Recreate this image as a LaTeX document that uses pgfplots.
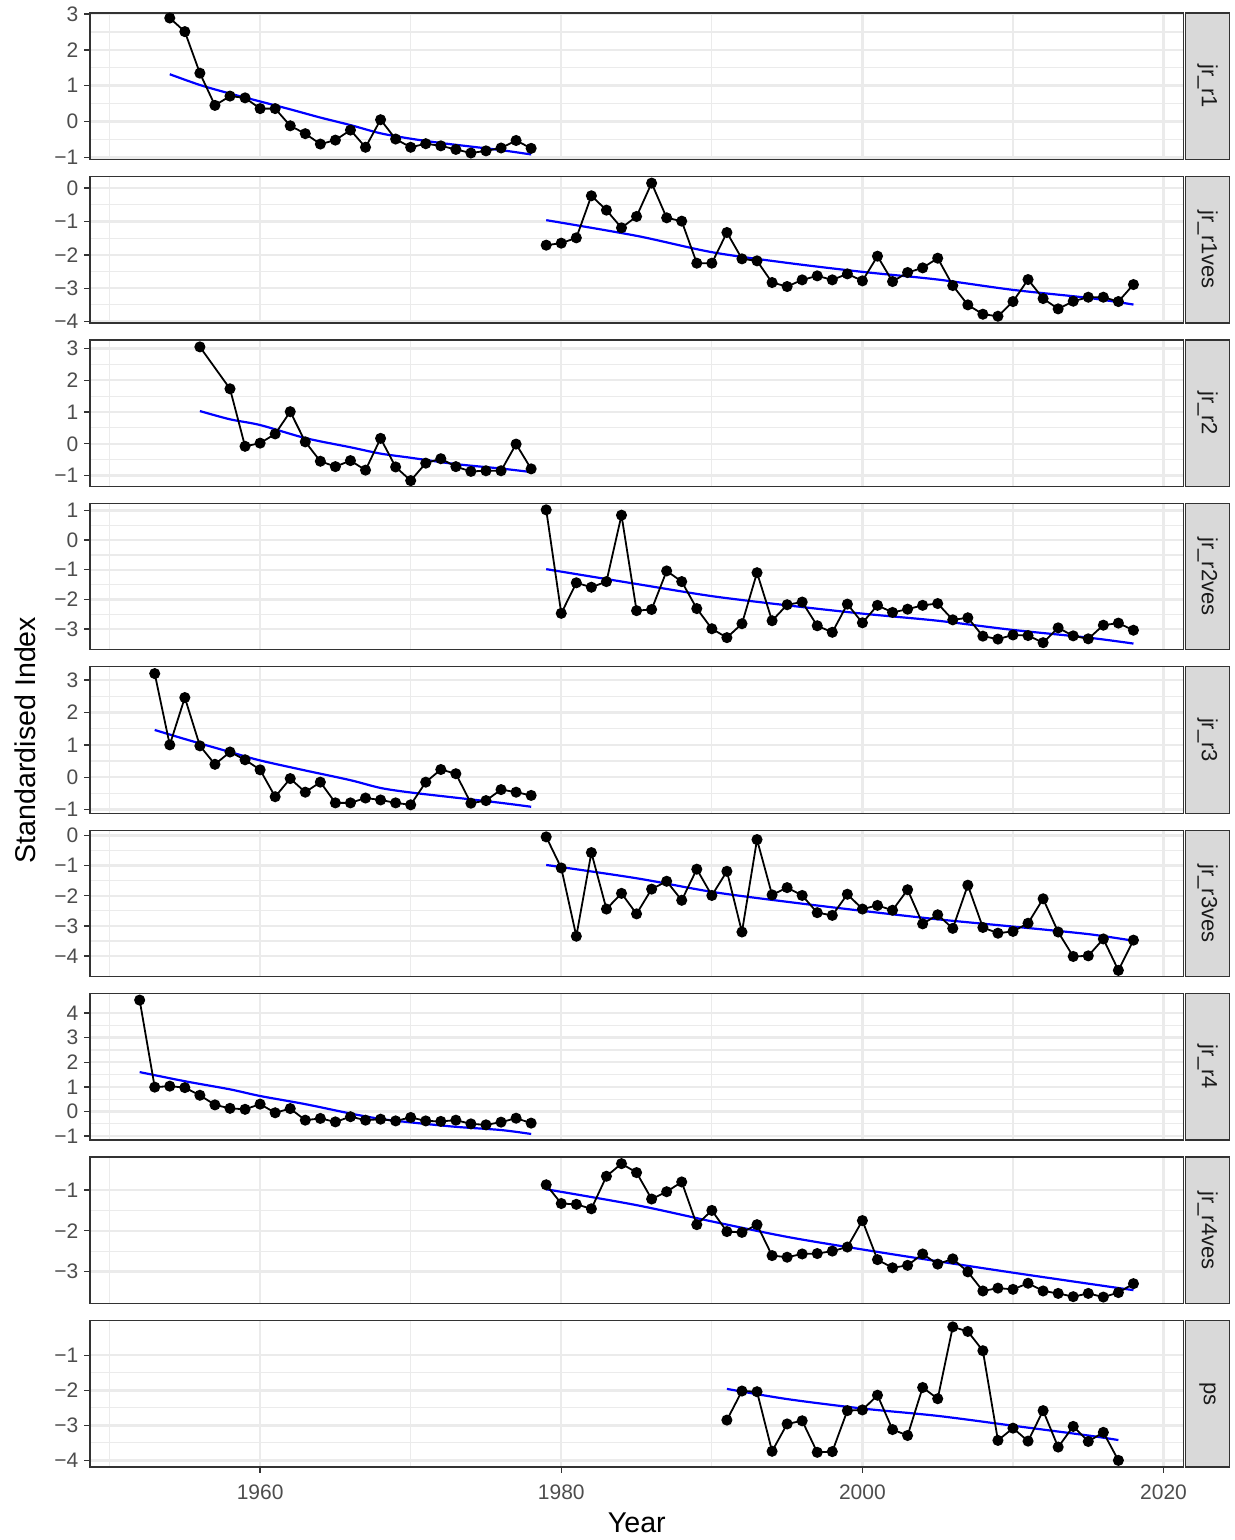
\documentclass[border=0pt]{standalone}
\usepackage{fontspec}
\setmainfont{Liberation Sans}
\usepackage{pgfplots}
\pgfplotsset{compat=1.18}
\usepgfplotslibrary{groupplots}
\usetikzlibrary{calc}
\definecolor{g20}{HTML}{333333}
\definecolor{g30}{HTML}{4D4D4D}
\definecolor{g10}{HTML}{1A1A1A}
\definecolor{g85}{HTML}{D9D9D9}
\definecolor{g92}{HTML}{EBEBEB}
\pgfplotsset{
  dat/.style={black, line width=0.9pt, mark=*, mark size=2.3pt, mark options={solid, fill=black}},
  fit/.style={blue, line width=1.1pt, no marks},
}
\begin{document}
\begin{tikzpicture}
\begin{groupplot}[
  group style={group size=1 by 9, vertical sep=8.5pt, xticklabels at=edge bottom},
  scale only axis, width=547pt, height=73.25pt,
  xmin=1948.7, xmax=2021.33,
  xtick={1960,1980,2000,2020}, xticklabels={1960,1980,2000,2020},
  minor xtick={1950,1970,1990,2010},
  minor y tick num=1,
  grid=both,
  major grid style={color=g92, line width=1.2pt},
  minor grid style={color=g92, line width=0.6pt},
  axis line style={g20, line width=0.7pt},
  tick style={g20, line width=0.7pt},
  tick align=outside, major tick length=2.8pt, minor tick length=0pt,
  xtick pos=bottom, ytick pos=left,
  ticklabel style={font=\fontsize{10.5}{12}\selectfont, text=g30},
  xticklabel style={yshift=-2.5pt},
  yticklabel style={xshift=0.5pt},
  every major x tick/.append style={draw=none},
  every axis x label/.style={at={(rel axis cs:0.5,0)}, yshift=-28pt, anchor=center, font=\fontsize{14.3}{16}\selectfont},
]
% jr_r1
\nextgroupplot[ymin=-1.06, ymax=3.03, ytick={-1,0,1,2,3}, yticklabels={−1,0,1,2,3}]
\addplot[fit, smooth] coordinates {(1954,1.32) (1956,1.02) (1958,0.78) (1960,0.56) (1962,0.34) (1964,0.11) (1966,-0.10) (1968,-0.33) (1970,-0.48) (1972,-0.60) (1974,-0.70) (1976,-0.80) (1978,-0.92)};
\addplot[dat] coordinates {(1954,2.89) (1955,2.51) (1956,1.35) (1957,0.45) (1958,0.71) (1959,0.66) (1960,0.36) (1961,0.36) (1962,-0.12) (1963,-0.34) (1964,-0.63) (1965,-0.52) (1966,-0.24) (1967,-0.72) (1968,0.05) (1969,-0.49) (1970,-0.72) (1971,-0.62) (1972,-0.68) (1973,-0.78) (1974,-0.88) (1975,-0.82) (1976,-0.74) (1977,-0.53) (1978,-0.75)};
% jr_r1ves
\nextgroupplot[ymin=-4.04, ymax=0.35, ytick={-4,-3,-2,-1,0}, yticklabels={−4,−3,−2,−1,0}]
\addplot[fit, smooth] coordinates {(1979,-0.96) (1985,-1.43) (1990,-1.92) (1995,-2.24) (2000,-2.51) (2005,-2.74) (2010,-3.05) (2015,-3.29) (2018,-3.49)};
\addplot[dat] coordinates {(1979,-1.71) (1980,-1.65) (1981,-1.49) (1982,-0.23) (1983,-0.66) (1984,-1.19) (1985,-0.85) (1986,0.15) (1987,-0.89) (1988,-0.99) (1989,-2.25) (1990,-2.25) (1991,-1.33) (1992,-2.12) (1993,-2.18) (1994,-2.83) (1995,-2.95) (1996,-2.75) (1997,-2.63) (1998,-2.75) (1999,-2.57) (2000,-2.78) (2001,-2.04) (2002,-2.80) (2003,-2.53) (2004,-2.39) (2005,-2.10) (2006,-2.92) (2007,-3.50) (2008,-3.78) (2009,-3.84) (2010,-3.40) (2011,-2.74) (2012,-3.31) (2013,-3.62) (2014,-3.39) (2015,-3.27) (2016,-3.27) (2017,-3.40) (2018,-2.89)};
% jr_r2
\nextgroupplot[ymin=-1.34, ymax=3.27, ytick={-1,0,1,2,3}, yticklabels={−1,0,1,2,3}]
\addplot[fit, smooth] coordinates {(1956,1.03) (1958,0.77) (1960,0.59) (1963,0.18) (1966,-0.11) (1968,-0.31) (1970,-0.44) (1973,-0.64) (1976,-0.78) (1978,-0.89)};
\addplot[dat] coordinates {(1956,3.05) (1958,1.73) (1959,-0.08) (1960,0.02) (1961,0.31) (1962,1.01) (1963,0.06) (1964,-0.55) (1965,-0.72) (1966,-0.53) (1967,-0.83) (1968,0.17) (1969,-0.73) (1970,-1.16) (1971,-0.61) (1972,-0.47) (1973,-0.72) (1974,-0.87) (1975,-0.85) (1976,-0.85) (1977,-0.01) (1978,-0.79)};
% jr_r2ves
\nextgroupplot[ymin=-3.70, ymax=1.24, ytick={-3,-2,-1,0,1}, yticklabels={−3,−2,−1,0,1}]
\addplot[fit, smooth] coordinates {(1979,-0.98) (1985,-1.48) (1990,-1.89) (1995,-2.20) (2000,-2.48) (2005,-2.72) (2010,-3.03) (2015,-3.29) (2018,-3.49)};
\addplot[dat] coordinates {(1979,1.02) (1980,-2.47) (1981,-1.44) (1982,-1.59) (1983,-1.40) (1984,0.84) (1985,-2.38) (1986,-2.34) (1987,-1.04) (1988,-1.40) (1989,-2.31) (1990,-2.99) (1991,-3.29) (1992,-2.82) (1993,-1.10) (1994,-2.72) (1995,-2.18) (1996,-2.09) (1997,-2.89) (1998,-3.11) (1999,-2.16) (2000,-2.79) (2001,-2.20) (2002,-2.44) (2003,-2.33) (2004,-2.20) (2005,-2.14) (2006,-2.69) (2007,-2.62) (2008,-3.24) (2009,-3.34) (2010,-3.20) (2011,-3.22) (2012,-3.46) (2013,-2.96) (2014,-3.23) (2015,-3.33) (2016,-2.87) (2017,-2.80) (2018,-3.04)};
% jr_r3
\nextgroupplot[ymin=-1.11, ymax=3.41, ytick={-1,0,1,2,3}, yticklabels={−1,0,1,2,3}]
\addplot[fit, smooth] coordinates {(1953,1.46) (1955,1.18) (1958,0.78) (1960,0.52) (1963,0.21) (1966,-0.09) (1968,-0.33) (1970,-0.47) (1973,-0.63) (1976,-0.79) (1978,-0.91)};
\addplot[dat] coordinates {(1953,3.20) (1954,1.00) (1955,2.46) (1956,0.97) (1957,0.40) (1958,0.78) (1959,0.54) (1960,0.23) (1961,-0.60) (1962,-0.04) (1963,-0.46) (1964,-0.15) (1965,-0.79) (1966,-0.79) (1967,-0.64) (1968,-0.70) (1969,-0.79) (1970,-0.85) (1971,-0.15) (1972,0.24) (1973,0.11) (1974,-0.80) (1975,-0.72) (1976,-0.38) (1977,-0.46) (1978,-0.56)};
% jr_r3ves
\nextgroupplot[ymin=-4.68, ymax=0.17, ytick={-4,-3,-2,-1,0}, yticklabels={−4,−3,−2,−1,0}]
\addplot[fit, smooth] coordinates {(1979,-0.98) (1985,-1.42) (1990,-1.87) (1995,-2.20) (2000,-2.50) (2005,-2.78) (2010,-3.02) (2015,-3.27) (2018,-3.49)};
\addplot[dat] coordinates {(1979,-0.05) (1980,-1.08) (1981,-3.34) (1982,-0.57) (1983,-2.44) (1984,-1.92) (1985,-2.60) (1986,-1.78) (1987,-1.52) (1988,-2.15) (1989,-1.12) (1990,-1.99) (1991,-1.19) (1992,-3.20) (1993,-0.14) (1994,-1.97) (1995,-1.73) (1996,-1.99) (1997,-2.56) (1998,-2.65) (1999,-1.95) (2000,-2.44) (2001,-2.32) (2002,-2.48) (2003,-1.80) (2004,-2.93) (2005,-2.63) (2006,-3.08) (2007,-1.65) (2008,-3.05) (2009,-3.24) (2010,-3.18) (2011,-2.91) (2012,-2.10) (2013,-3.20) (2014,-4.01) (2015,-3.99) (2016,-3.43) (2017,-4.47) (2018,-3.47)};
% jr_r4
\nextgroupplot[ymin=-1.16, ymax=4.78, ytick={-1,0,1,2,3,4}, yticklabels={−1,0,1,2,3,4}]
\addplot[fit, smooth] coordinates {(1952,1.60) (1955,1.23) (1958,0.90) (1960,0.63) (1963,0.30) (1966,-0.08) (1968,-0.30) (1970,-0.44) (1973,-0.62) (1976,-0.75) (1978,-0.91)};
\addplot[dat] coordinates {(1952,4.52) (1953,0.99) (1954,1.03) (1955,0.97) (1956,0.66) (1957,0.27) (1958,0.13) (1959,0.09) (1960,0.30) (1961,-0.05) (1962,0.12) (1963,-0.35) (1964,-0.28) (1965,-0.42) (1966,-0.21) (1967,-0.35) (1968,-0.31) (1969,-0.38) (1970,-0.24) (1971,-0.38) (1972,-0.40) (1973,-0.35) (1974,-0.50) (1975,-0.54) (1976,-0.43) (1977,-0.27) (1978,-0.47)};
% jr_r4ves
\nextgroupplot[ymin=-3.79, ymax=-0.19, ytick={-3,-2,-1}, yticklabels={−3,−2,−1}]
\addplot[fit, smooth] coordinates {(1979,-0.98) (1985,-1.37) (1990,-1.77) (1995,-2.15) (2000,-2.46) (2005,-2.75) (2010,-3.03) (2015,-3.30) (2018,-3.46)};
\addplot[dat] coordinates {(1979,-0.87) (1980,-1.33) (1981,-1.35) (1982,-1.46) (1983,-0.66) (1984,-0.35) (1985,-0.57) (1986,-1.22) (1987,-1.04) (1988,-0.80) (1989,-1.85) (1990,-1.50) (1991,-2.02) (1992,-2.04) (1993,-1.85) (1994,-2.61) (1995,-2.65) (1996,-2.57) (1997,-2.56) (1998,-2.50) (1999,-2.40) (2000,-1.75) (2001,-2.71) (2002,-2.91) (2003,-2.85) (2004,-2.57) (2005,-2.82) (2006,-2.69) (2007,-3.01) (2008,-3.48) (2009,-3.41) (2010,-3.44) (2011,-3.29) (2012,-3.48) (2013,-3.54) (2014,-3.62) (2015,-3.54) (2016,-3.63) (2017,-3.52) (2018,-3.30)};
% ps
\nextgroupplot[ymin=-4.19, ymax=-0.01, ytick={-4,-3,-2,-1}, yticklabels={−4,−3,−2,−1},
  every major x tick/.style={draw=g20, line width=0.7pt}, xlabel={Year}]
\addplot[fit, smooth] coordinates {(1991,-1.96) (1995,-2.25) (2000,-2.52) (2005,-2.73) (2010,-3.01) (2015,-3.29) (2017,-3.42)};
\addplot[dat] coordinates {(1991,-2.85) (1992,-2.02) (1993,-2.04) (1994,-3.74) (1995,-2.96) (1996,-2.87) (1997,-3.77) (1998,-3.75) (1999,-2.58) (2000,-2.56) (2001,-2.14) (2002,-3.12) (2003,-3.29) (2004,-1.92) (2005,-2.24) (2006,-0.19) (2007,-0.32) (2008,-0.87) (2009,-3.43) (2010,-3.08) (2011,-3.45) (2012,-2.58) (2013,-3.62) (2014,-3.03) (2015,-3.46) (2016,-3.20) (2017,-4.00)};
\end{groupplot}
\foreach \i/\lab in {1/jr\_r1, 2/jr\_r1ves, 3/jr\_r2, 4/jr\_r2ves, 5/jr\_r3, 6/jr\_r3ves, 7/jr\_r4, 8/jr\_r4ves, 9/ps} {
  \draw[fill=g85, draw=g20, line width=0.7pt] ([xshift=1pt]group c1r\i.south east) rectangle ([xshift=23pt]group c1r\i.north east);
  \node[rotate=-90, font=\fontsize{11}{13}\selectfont, text=g10] at ($([xshift=12pt]group c1r\i.south east)!0.5!([xshift=12pt]group c1r\i.north east)$) {\lab};
}
\node[rotate=90, font=\fontsize{14.3}{16}\selectfont] at ($([xshift=-32.5pt]group c1r1.north west)!0.5!([xshift=-32.5pt]group c1r9.south west)$) {Standardised Index};
\path ([xshift=-45pt,yshift=6pt]group c1r1.north west) rectangle ([xshift=25.5pt,yshift=-36.5pt]group c1r9.south east);
\end{tikzpicture}
\end{document}
